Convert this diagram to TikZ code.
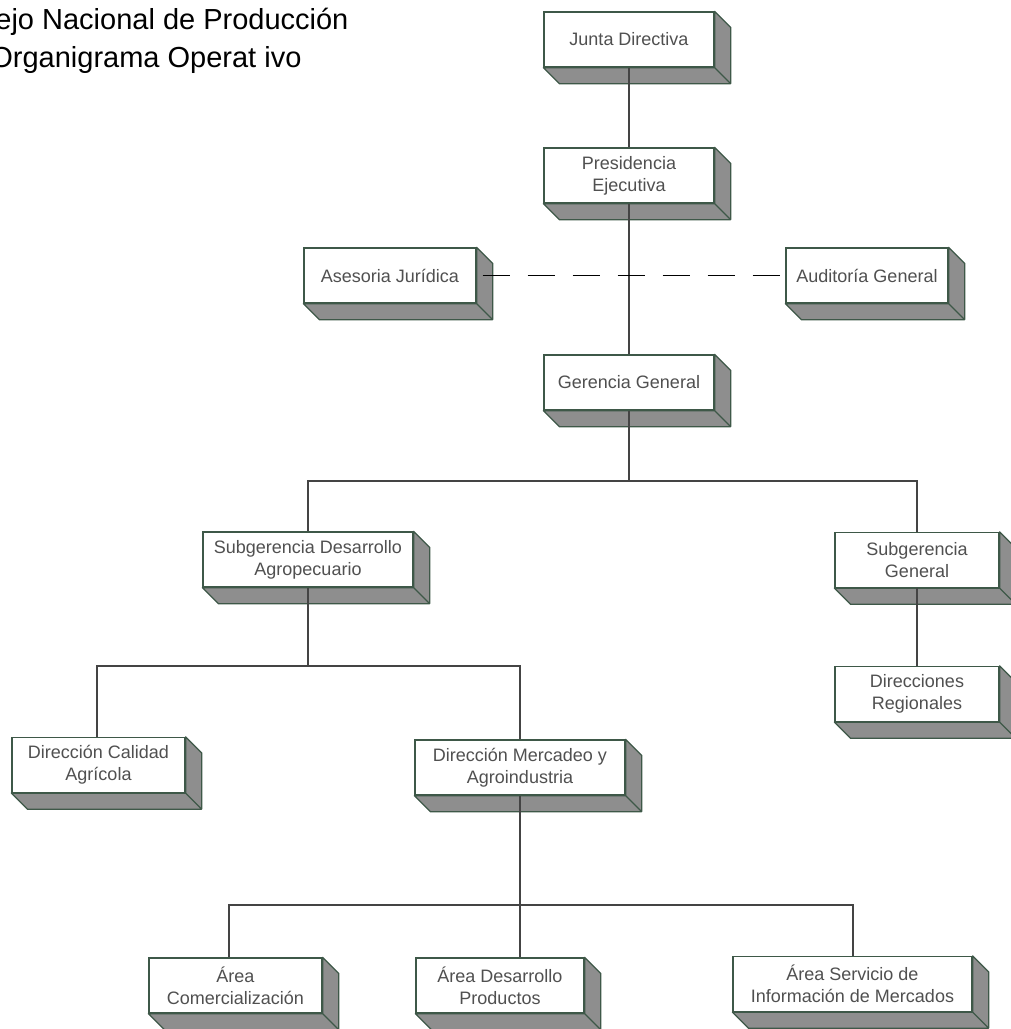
\documentclass[tikz,border=0pt]{standalone}
\usepackage{fontspec}
\setmainfont{Liberation Sans}
\usepackage{xcolor}
\usepackage{tikz}
\usetikzlibrary{positioning,calc}

\definecolor{borde}{RGB}{62,88,72}
\definecolor{lado}{RGB}{142,142,142}
\definecolor{texto}{RGB}{80,80,80}
\definecolor{linea}{RGB}{68,68,68}

\begin{document}
\begin{tikzpicture}[x=1pt,y=-1pt,
    caja/.style={draw=borde, line width=1.3pt, fill=white, rectangle, minimum height=55pt,
      inner sep=0pt, align=center, text=texto, font=\fontsize{18}{22}\selectfont},
    cara/.style={draw=borde, line width=1.3pt, fill=lado, line join=round},
    conector/.style={draw=linea, line width=2pt},
    punteado/.style={draw=black, line width=1.5pt, dash pattern=on 27pt off 18pt, dash phase=39pt}]
  \useasboundingbox (0,0) rectangle (1011,1029);
  \clip (0,0) rectangle (1011,1029);
  \node[anchor=base east, font=\fontsize{29}{33}\selectfont] (titulo) at (352,29) {ejo Nacional de Producción};
  \node[anchor=base east, font=\fontsize{29}{33}\selectfont] (subtitulo) at (305,67) {Organigrama Operat ivo};

  \node[caja, minimum width=170pt] (junta) at (629,39.5) {Junta Directiva};
  \node[caja, minimum width=170pt] (presidencia) at (629,175.5) {Presidencia\\Ejecutiva};
  \node[caja, minimum width=172pt] (asesoria) at (390,275.5) {Asesoria Jurídica};
  \node[caja, minimum width=162pt] (auditoria) at (867,275.5) {Auditoría General};
  \node[caja, minimum width=170pt] (gerencia) at (629,382.5) {Gerencia General};
  \node[caja, minimum width=210pt] (subdesarrollo) at (308,559.5) {Subgerencia Desarrollo\\Agropecuario};
  \node[caja, minimum width=164pt] (subgeneral) at (917,560) {Subgerencia\\General};
  \node[caja, minimum width=164pt] (regionales) at (917,694) {Direcciones\\Regionales};
  \node[caja, minimum width=173pt] (calidad) at (98.5,765) {Dirección Calidad\\Agrícola};
  \node[caja, minimum width=210pt] (mercadeo) at (520,767.5) {Dirección Mercadeo y\\Agroindustria};
  \node[caja, minimum width=173pt] (comercial) at (235.5,985.5) {Área\\Comercialización};
  \node[caja, minimum width=168pt] (productos) at (500,985.5) {Área Desarrollo\\Productos};
  \node[caja, minimum width=239pt] (informacion) at (852.5,984) {Área Servicio de\\Información de Mercados};

  \foreach \n in {junta,presidencia,asesoria,auditoria,gerencia,subdesarrollo,subgeneral,
                  regionales,calidad,mercadeo,comercial,productos,informacion}
    \filldraw[cara] (\n.south west) -- ++(16,16) -- ($(\n.south east)+(16,16)$)
      -- ($(\n.north east)+(16,16)$) -- (\n.north east) -- (\n.south east) -- cycle
      (\n.south east) -- ++(16,16);

  \draw[conector] (junta) -- (presidencia);
  \draw[conector] (presidencia) -- (gerencia);
  \draw[punteado] (asesoria) -- (auditoria);
  \draw[conector] (gerencia.south) -- ++(0,70) -| (subdesarrollo.north);
  \draw[conector] (gerencia.south) ++(0,70) -| (subgeneral.north);
  \draw[conector] (subgeneral) -- (regionales);
  \draw[conector] (subdesarrollo.south) -- ++(0,78) -| ([xshift=-1.5pt]calidad.north);
  \draw[conector] (subdesarrollo.south) ++(0,78) -| (mercadeo.north);
  \draw[conector] (mercadeo.south) -- ++(0,109) -| ([xshift=-6.5pt]comercial.north);
  \draw[conector] (mercadeo.south) -- (mercadeo.south |- productos.north);
  \draw[conector] (mercadeo.south) ++(0,109) -| (informacion.north);
\end{tikzpicture}
\end{document}
